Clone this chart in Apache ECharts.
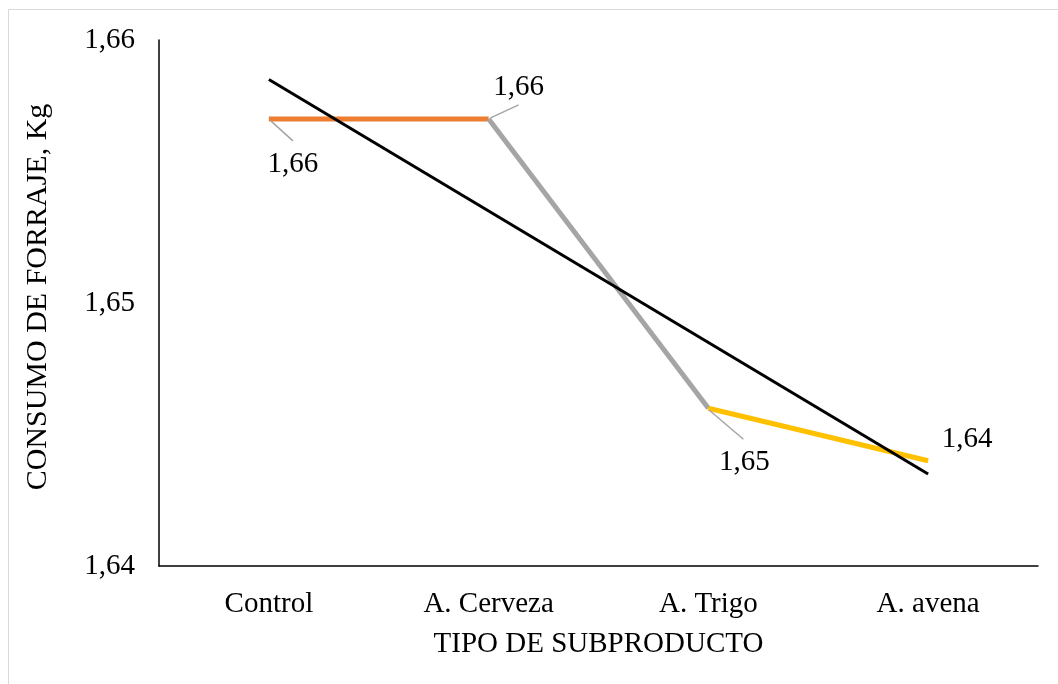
<!DOCTYPE html>
<html>
<head>
<meta charset="utf-8">
<script src="https://cdn.jsdelivr.net/npm/echarts@6/dist/echarts.min.js"></script>
<style>
html,body{margin:0;padding:0;background:#fff;}
#chart{width:1058px;height:684px;}
</style>
</head>
<body>
<div id="chart"></div>
<script>
const categories = ['Control', 'A. Cerveza', 'A. Trigo', 'A. avena'];
const values = [1.657, 1.657, 1.646, 1.644];
const trendValues = [1.6585, '-', '-', 1.6435];
const yTicks = [1.64, 1.65, 1.66];
const segOrange = [values[0], values[1], '-', '-'];
const segGray = ['-', values[1], values[2], '-'];
const segYellow = ['-', '-', values[2], values[3]];

const FONT = '"Liberation Serif", "Times New Roman", serif';
const fmt = v => Number(v).toFixed(2).replace('.', ',');
// pixel offsets of each data label from its point (style), and leader line ends
const labelOffsets = [[24, 45], [30, -32], [36, 54], [39, -21]];
const leaderOffsets = [[[2, 2], [24, 22]], [[2, -1], [30, -14]], [[1, 2], [35, 31]], null];

const chart = echarts.init(document.getElementById('chart'));
chart.setOption({
  backgroundColor: '#fff',
  animation: false,
  graphic: [{
    type: 'rect',
    shape: {x: 8.5, y: 9.5, width: 1100, height: 700},
    style: {fill: 'none', stroke: '#D9D9D9', lineWidth: 1},
    silent: true
  }],
  grid: {left: 159, right: 20, top: 40, bottom: 118},
  xAxis: {
    type: 'category',
    data: categories,
    boundaryGap: true,
    axisLine: {lineStyle: {color: '#000', width: 1.5}},
    axisTick: {show: false},
    axisLabel: {color: '#000', fontFamily: FONT, fontSize: 29, margin: 24},
    name: 'TIPO DE SUBPRODUCTO',
    nameLocation: 'middle',
    nameGap: 64,
    nameTextStyle: {color: '#000', fontFamily: FONT, fontSize: 29}
  },
  yAxis: {
    type: 'value',
    min: yTicks[0], max: yTicks[yTicks.length - 1], interval: 0.01,
    axisLine: {show: true, lineStyle: {color: '#000', width: 1.5}},
    axisTick: {show: false},
    splitLine: {show: false},
    axisLabel: {color: '#000', fontFamily: FONT, fontSize: 29, margin: 24, formatter: fmt},
    name: 'CONSUMO DE FORRAJE, Kg',
    nameLocation: 'middle',
    nameGap: 106,
    nameTextStyle: {color: '#000', fontFamily: FONT, fontSize: 30, padding: [0, 0, 0, 12]}
  },
  series: [
    {type: 'line', data: segOrange, symbol: 'none', lineStyle: {color: '#ED7D31', width: 5}, z: 2},
    {type: 'line', data: segGray, symbol: 'none', lineStyle: {color: '#A5A5A5', width: 5}, z: 2},
    {type: 'line', data: segYellow, symbol: 'none', lineStyle: {color: '#FFC000', width: 5}, z: 2},
    {type: 'line', data: trendValues, connectNulls: true, symbol: 'none', lineStyle: {color: '#000', width: 3}, z: 3},
    {
      type: 'custom',
      data: values.map((v, i) => [i, v]),
      z: 4,
      silent: true,
      renderItem: (params, api) => {
        const off = leaderOffsets[params.dataIndex];
        const p = api.coord([api.value(0), api.value(1)]);
        const lab = labelOffsets[params.dataIndex];
        const children = [{
          type: 'text',
          style: {
            x: p[0] + lab[0], y: p[1] + lab[1], text: fmt(api.value(1)),
            fill: '#000', font: '29px ' + FONT, align: 'center', verticalAlign: 'middle'
          }
        }];
        if (off) {
          children.push({
            type: 'line',
            shape: {x1: p[0] + off[0][0], y1: p[1] + off[0][1], x2: p[0] + off[1][0], y2: p[1] + off[1][1]},
            style: {stroke: '#A5A5A5', lineWidth: 1.5}
          });
        }
        return {type: 'group', children: children};
      }
    }
  ]
});
</script>
</body>
</html>
